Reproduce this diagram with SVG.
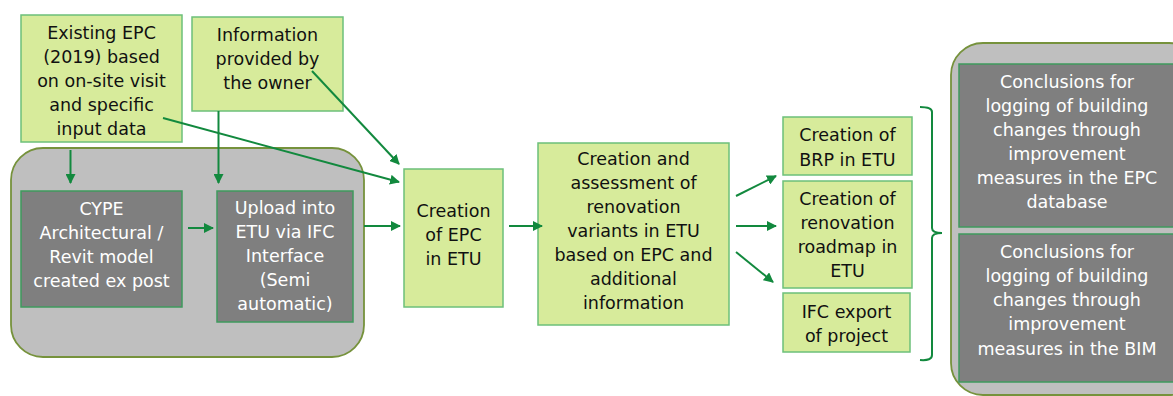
<svg xmlns="http://www.w3.org/2000/svg" width="1173" height="396" viewBox="0 0 1173 396">
  <style>
    .light { fill: #d7eb9b; stroke: #6cc07a; stroke-width: 1.5; }
    .dark { fill: #7f7f7f; stroke: #3f9a5e; stroke-width: 1.5; }
    .frame { fill: #bfbfbf; stroke: #76923c; stroke-width: 1.8; }
    .t { font-family: "DejaVu Sans", "Liberation Sans", sans-serif; font-size: 17.5px; text-anchor: middle; }
    .tl { fill: #111111; }
    .tw { fill: #ffffff; }
    .conn { stroke: #12893e; stroke-width: 2; fill: none; }
    .arr { marker-end: url(#ah); }
  </style>
  <defs>
    <marker id="ah" viewBox="0 0 10 10" refX="9" refY="5" markerWidth="5" markerHeight="5" orient="auto" markerUnits="strokeWidth">
      <path d="M0,0 L10,5 L0,10 z" fill="#12893e"/>
    </marker>
  </defs>

  <rect width="1173" height="396" fill="#ffffff"/>

  <!-- left container holding the modelling steps -->
  <g id="model-container">
    <rect class="frame" x="11" y="148" width="353" height="209" rx="32" ry="32"/>
  </g>

  <!-- right container holding the conclusions -->
  <g id="conclusions-container">
    <rect class="frame" x="951" y="43" width="250" height="352" rx="32" ry="32"/>
  </g>

  <g id="existing-epc">
    <rect class="light" x="21" y="15" width="161" height="127"/>
    <text class="t tl" x="101.5" y="39">Existing EPC</text>
    <text class="t tl" x="101.5" y="63">(2019) based</text>
    <text class="t tl" x="101.5" y="87">on on-site visit</text>
    <text class="t tl" x="101.5" y="111">and specific</text>
    <text class="t tl" x="101.5" y="135">input data</text>
  </g>

  <g id="owner-info">
    <rect class="light" x="192" y="17" width="151" height="94"/>
    <text class="t tl" x="267.5" y="41">Information</text>
    <text class="t tl" x="267.5" y="65">provided by</text>
    <text class="t tl" x="267.5" y="89">the owner</text>
  </g>

  <g id="cype-model">
    <rect class="dark" x="21" y="191" width="161" height="116"/>
    <text class="t tw" x="101.5" y="215">CYPE</text>
    <text class="t tw" x="101.5" y="239">Architectural /</text>
    <text class="t tw" x="101.5" y="263">Revit model</text>
    <text class="t tw" x="101.5" y="287">created ex post</text>
  </g>

  <g id="ifc-upload">
    <rect class="dark" x="217" y="191" width="136" height="131"/>
    <text class="t tw" x="285" y="214">Upload into</text>
    <text class="t tw" x="285" y="238">ETU via IFC</text>
    <text class="t tw" x="285" y="262">Interface</text>
    <text class="t tw" x="285" y="286">(Semi</text>
    <text class="t tw" x="285" y="310">automatic)</text>
  </g>

  <g id="epc-creation">
    <rect class="light" x="404" y="169" width="99" height="138"/>
    <text class="t tl" x="453.5" y="217">Creation</text>
    <text class="t tl" x="453.5" y="241">of EPC</text>
    <text class="t tl" x="453.5" y="265">in ETU</text>
  </g>

  <g id="renovation-variants">
    <rect class="light" x="538" y="143" width="191" height="182"/>
    <text class="t tl" x="633.5" y="165">Creation and</text>
    <text class="t tl" x="633.5" y="189">assessment of</text>
    <text class="t tl" x="633.5" y="213">renovation</text>
    <text class="t tl" x="633.5" y="237">variants in ETU</text>
    <text class="t tl" x="633.5" y="261">based on EPC and</text>
    <text class="t tl" x="633.5" y="285">additional</text>
    <text class="t tl" x="633.5" y="309">information</text>
  </g>

  <g id="brp-creation">
    <rect class="light" x="783" y="117" width="129" height="58"/>
    <text class="t tl" x="847.5" y="141">Creation of</text>
    <text class="t tl" x="847.5" y="166">BRP in ETU</text>
  </g>

  <g id="roadmap-creation">
    <rect class="light" x="783" y="181" width="129" height="107"/>
    <text class="t tl" x="847.5" y="205">Creation of</text>
    <text class="t tl" x="847.5" y="229">renovation</text>
    <text class="t tl" x="847.5" y="253">roadmap in</text>
    <text class="t tl" x="847.5" y="277">ETU</text>
  </g>

  <g id="ifc-export">
    <rect class="light" x="783" y="293" width="127" height="59"/>
    <text class="t tl" x="846.5" y="318">IFC export</text>
    <text class="t tl" x="846.5" y="342">of project</text>
  </g>

  <g id="conclusions-epc">
    <rect class="dark" x="959" y="64" width="230" height="163"/>
    <text class="t tw" x="1067" y="88">Conclusions for</text>
    <text class="t tw" x="1067" y="112">logging of building</text>
    <text class="t tw" x="1067" y="136">changes through</text>
    <text class="t tw" x="1067" y="160">improvement</text>
    <text class="t tw" x="1067" y="184">measures in the EPC</text>
    <text class="t tw" x="1067" y="208">database</text>
  </g>

  <g id="conclusions-bim">
    <rect class="dark" x="959" y="234" width="230" height="148"/>
    <text class="t tw" x="1067" y="258">Conclusions for</text>
    <text class="t tw" x="1067" y="282">logging of building</text>
    <text class="t tw" x="1067" y="306">changes through</text>
    <text class="t tw" x="1067" y="330">improvement</text>
    <text class="t tw" x="1067" y="355">measures in the BIM</text>
  </g>

  <g id="connectors">
    <line class="conn arr" x1="70.5" y1="150" x2="70.5" y2="183"/>
    <line class="conn arr" x1="218.5" y1="111" x2="218.5" y2="183"/>
    <line class="conn arr" x1="188" y1="228" x2="213" y2="228"/>
    <line class="conn arr" x1="364" y1="226" x2="400" y2="226"/>
    <line class="conn arr" x1="163" y1="118" x2="399" y2="182"/>
    <line class="conn arr" x1="312" y1="71" x2="399" y2="164"/>
    <line class="conn arr" x1="509" y1="226" x2="542" y2="226"/>
    <line class="conn arr" x1="736" y1="196" x2="776" y2="176"/>
    <line class="conn arr" x1="736" y1="226" x2="776" y2="226"/>
    <line class="conn arr" x1="736" y1="252" x2="773" y2="282"/>
    <!-- brace grouping the three outputs -->
    <path class="conn" d="M920,107 Q932,107 932,112 L932,228 Q932,233 942,233 Q932,233 932,238 L932,355 Q932,361 920,360"/>
  </g>
</svg>
